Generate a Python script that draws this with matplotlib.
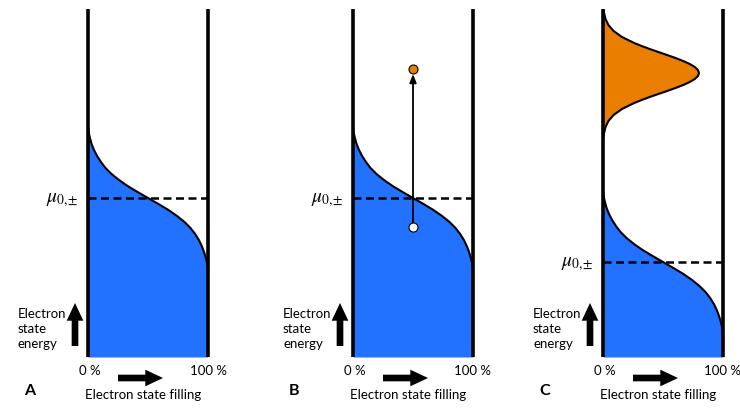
import matplotlib
matplotlib.use("Agg")
import matplotlib.pyplot as plt

# energy offsets from the chemical potential (energy units, top to bottom)
fermi_offset = [72, 66, 60, 54, 48, 42, 36, 30, 24, 18, 12, 6, 0,
                -6, -12, -18, -24, -30, -36, -42, -48, -54, -60, -66, -72]
# electron state filling (%)
fermi_filling = [0.0, 0.5, 1.6, 3.0, 5.0, 7.6, 10.8, 14.6, 19.6, 25.8, 33.0, 41.3, 50.0,
                 58.7, 67.0, 74.2, 80.4, 85.4, 89.3, 92.4, 94.8, 96.7, 98.2, 99.4, 100.0]

# excited population in panel C (orange), offsets from its peak
excited_offset = [66, 60, 54, 48, 42, 36, 30, 27, 24, 21, 18, 15, 12, 9, 6, 3, 0,
                  -3, -6, -9, -12, -15, -18, -21, -24, -27, -30, -36, -42, -48, -54, -60, -66]
excited_filling = [0.0, 0.9, 2.1, 4.5, 8.8, 15.8, 26.0, 32.2, 38.9, 46.1, 53.4, 60.4, 66.8, 72.3,
                   76.5, 79.1, 80.0, 79.1, 76.5, 72.3, 66.8, 60.4, 53.4, 46.1, 38.9, 32.2, 26.0,
                   15.8, 8.8, 4.5, 2.1, 0.9, 0.0]

panels = ["A", "B", "C"]
mu_energy = [159, 159, 95]
excited_peak = 284
# panel B transition: hollow start state and filled end state
jump_filling = 50
jump_from = 130
jump_to = 288

E_TOP = 348
BLUE = "#2372FF"
ORANGE = "#EA7E00"
W, H = 740, 414

fig = plt.figure(figsize=(W / 100, H / 100), dpi=100)
plt.rcParams["mathtext.fontset"] = "stix"
FONT = "Lato"
FS = 9.5

wall_x = [88, 353, 603]
top_px, bottom_px = 10, 358

overlay = fig.add_axes([0, 0, 1, 1], zorder=5)
overlay.set_xlim(0, W)
overlay.set_ylim(H, 0)
overlay.axis("off")

arrow_style = "simple,head_length=0.85,head_width=0.8,tail_width=0.32"

for i, name in enumerate(panels):
    x0 = wall_x[i]
    ax = fig.add_axes([x0 / W, 1 - bottom_px / H, 120 / W, (bottom_px - top_px) / H])
    ax.set_xlim(0, 100)
    ax.set_ylim(0, E_TOP)
    ax.axis("off")

    mu = mu_energy[i]
    energy = [E_TOP] + [mu + d for d in fermi_offset] + [0]
    fill = [0] + fermi_filling + [100]
    ax.fill_betweenx(energy, 0, fill, color=BLUE, lw=0)
    ax.plot(fermi_filling, [mu + d for d in fermi_offset], color="black", lw=1.5)

    # chemical potential
    ax.plot([0, 100], [mu, mu], color="black", lw=1.8, ls=(0, (3.2, 1.8)))

    if name == "B":
        ax.annotate("", xy=(jump_filling, jump_to - 5), xytext=(jump_filling, jump_from + 4),
                    arrowprops=dict(arrowstyle="-|>,head_length=0.5,head_width=0.2",
                                    color="black", lw=1.3, shrinkA=0, shrinkB=0))
        ax.plot(jump_filling, jump_to, "o", ms=6.5, mfc=ORANGE, mec="black", mew=0.8, zorder=4)
        ax.plot(jump_filling, jump_from, "o", ms=6.5, mfc="white", mec="black", mew=0.8, zorder=4)

    if name == "C":
        ex_e = [excited_peak + d for d in excited_offset]
        ax.fill_betweenx(ex_e, 0, excited_filling, color=ORANGE, lw=0)
        ax.plot(excited_filling, ex_e, color="black", lw=1.5)

    for wx in (0, 100):
        ax.plot([wx, wx], [0, E_TOP], color="black", lw=2.6, clip_on=False,
                solid_capstyle="butt", zorder=3)

    # labels (pixel coordinates)
    mu_px = bottom_px - mu
    overlay.text(x0 - 10, mu_px + 1, r"$\mu_{0,\!\!\pm}$", ha="right", va="center", fontsize=14)
    overlay.text(x0 - 70, 329, "Electron\nstate\nenergy", ha="left", va="center",
                 fontsize=FS, family=FONT, linespacing=1.3)
    overlay.annotate("", xy=(x0 - 13, 304), xytext=(x0 - 13, 347),
                     arrowprops=dict(arrowstyle=arrow_style, color="black", lw=0,
                                     shrinkA=0, shrinkB=0, mutation_scale=15))
    overlay.annotate("", xy=(x0 + 75, 379), xytext=(x0 + 30, 379),
                     arrowprops=dict(arrowstyle=arrow_style, color="black", lw=0,
                                     shrinkA=0, shrinkB=0, mutation_scale=15))
    overlay.text(x0 + 2, 371, "0 %", ha="center", va="center", fontsize=FS, family=FONT)
    overlay.text(x0 + 120, 371, "100 %", ha="center", va="center", fontsize=FS, family=FONT)
    overlay.text(x0 + 55, 395, "Electron state filling", ha="center", va="center",
                 fontsize=FS, family=FONT)
    overlay.text(x0 - 64, 391, name, ha="left", va="center", fontsize=11.5,
                 fontweight="bold", family=FONT)

fig.savefig("out.png", dpi=100)
